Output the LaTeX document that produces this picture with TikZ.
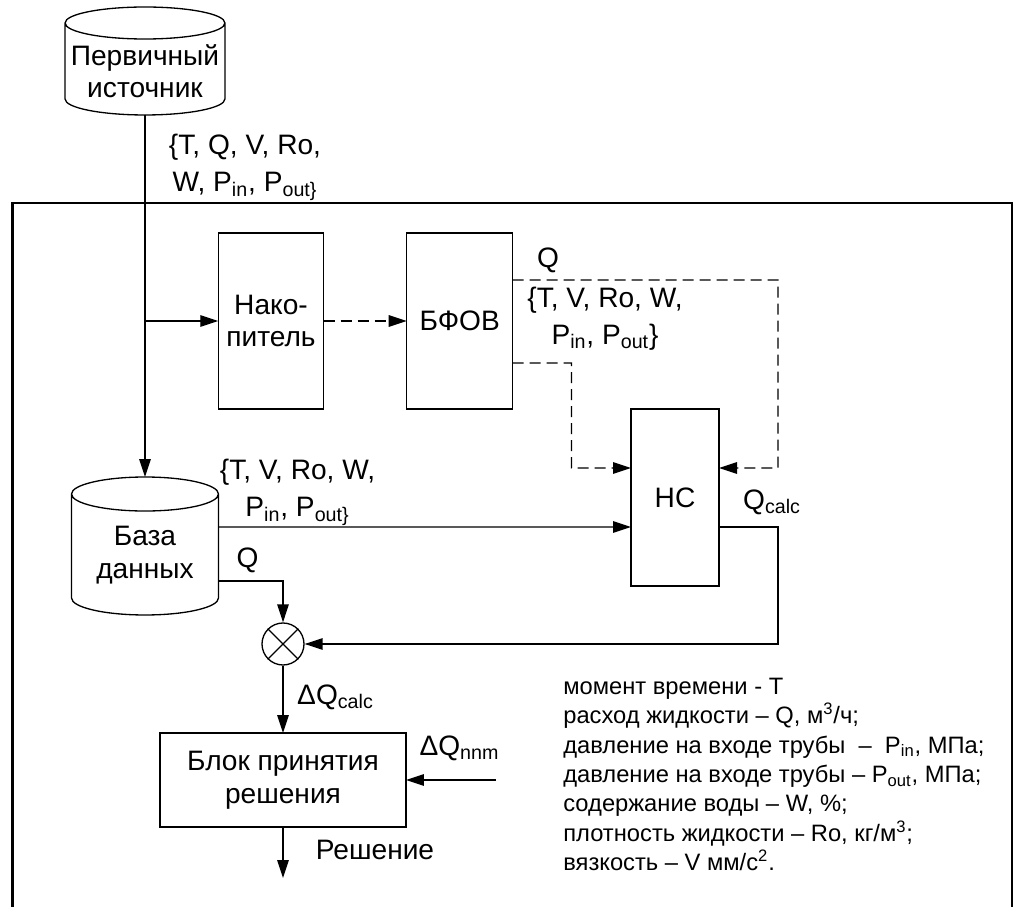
\documentclass[tikz,border=0pt]{standalone}
\usepackage{fontspec}
\setmainfont{Liberation Sans}
\usetikzlibrary{arrows.meta, positioning, calc}

\begin{document}
\begin{tikzpicture}[
            x=0.02cm, y=0.02cm,
            font=\fontsize{16}{18.5}\selectfont,
            block/.style={draw=black, line width=0.75pt, align=center, inner sep=0pt, outer sep=0pt},
            cyl/.style={inner sep=0pt, outer sep=0pt},
            lbl/.style={align=center, inner sep=0pt, font=\fontsize{16}{21}\selectfont},
            legendtext/.style={align=left, inner sep=0pt, font=\fontsize{13.5}{16.7}\selectfont},
            link/.style={line width=0.75pt},
            arrow/.style={-{Triangle[length=0.36cm, width=0.23cm]}, line width=0.75pt},
            dasharrow/.style={arrow, dash pattern=on 0.22cm off 0.12cm},
            outerframe/.style={line width=1.3pt}
        ]
            \useasboundingbox (0,0) rectangle (1013,906);

            % outer frame
            \draw[outerframe] (12.5,-10) -- (12.5,703) -- (1012.5,703) -- (1012.5,-10);

            % cylinders
            \node[cyl, minimum width=3.2cm, minimum height=2.16cm] (src) at (145,845) {};
            \node[align=center] (srctxt) at (145,835) {Первичный\\источник};
            \draw[link] ([yshift=-0.32cm]src.north west) -- ([yshift=0.32cm]src.south west)
                arc[start angle=180, end angle=360, x radius=1.6cm, y radius=0.32cm]
                -- ([yshift=-0.32cm]src.north east)
                arc[start angle=0, end angle=360, x radius=1.6cm, y radius=0.32cm];

            \node[cyl, minimum width=2.94cm, minimum height=2.76cm] (db) at (145,360) {};
            \node[align=center] (dbtxt) at (145,351) {База\\данных};
            \draw[link] ([yshift=-0.34cm]db.north west) -- ([yshift=0.34cm]db.south west)
                arc[start angle=180, end angle=360, x radius=1.47cm, y radius=0.34cm]
                -- ([yshift=-0.34cm]db.north east)
                arc[start angle=0, end angle=360, x radius=1.47cm, y radius=0.34cm];

            % blocks
            \node[block, minimum width=2.11cm, minimum height=3.52cm] (acc) at (271,585) {Нако-\\питель};
            \node[block, minimum width=2.12cm, minimum height=3.52cm, right=1.66cm of acc] (bfov) {БФОВ};
            \node[block, minimum width=1.76cm, minimum height=3.54cm] (nc) at (675,408.5) {НС};
            \node[circle, draw, line width=0.75pt, minimum size=0.84cm, inner sep=0pt] (mul) at (283,262) {};
            \draw[link] (mul.north west) -- (mul.south east) (mul.north east) -- (mul.south west);
            \node[block, minimum width=4.92cm, minimum height=1.88cm] (blk) at (283,126) {Блок принятия\\решения};

            \coordinate (qin) at (496,126);
            \coordinate (out) at (283,28);

            % labels
            \node[lbl] (srcdata) at (245,738.5) {\{T, Q, V, Ro,\\W, P\textsubscript{in}, P\textsubscript{out\}}};
            \node[lbl] (qbfov) at (548,646) {Q};
            \node[lbl] (bfovdata) at (605,587.5) {\{T, V, Ro, W,\\P\textsubscript{in}, P\textsubscript{out}\}};
            \node[lbl] (qcalc) at (772,404) {Q\textsubscript{calc}};
            \node[lbl] (dbdata) at (297.5,413.5) {\{T, V, Ro, W,\\P\textsubscript{in}, P\textsubscript{out\}}};
            \node[lbl] (qdb) at (247.5,346) {Q};
            \node[lbl] (dqcalc) at (335.5,209) {ΔQ\textsubscript{calc}};
            \node[lbl] (dqnnm) at (459.5,158) {ΔQ\textsubscript{nnm}};
            \node[lbl] (decision) at (375,56) {Решение};

            \node[legendtext, anchor=west] (legend) at (563,131.5) {момент времени - T\\
                расход жидкости – Q, м\textsuperscript{3}/ч;\\
                давление на входе трубы\ \ –\ \ P\textsubscript{in}, МПа;\\
                давление на входе трубы – P\textsubscript{out}, МПа;\\
                содержание воды – W, \%;\\
                плотность жидкости – Ro, кг/м\textsuperscript{3};\\
                вязкость – V мм/с\textsuperscript{2}.};

            % connectors
            \draw[arrow] (src.south) -- (db.north);
            \draw[arrow] (src.south |- acc.west) -- (acc.west);
            \draw[dasharrow] (acc) -- (bfov);
            \draw[dasharrow] ([yshift=0.82cm]bfov.east) -| (778,438) -- ([yshift=0.59cm]nc.east);
            \draw[dasharrow] ([yshift=-0.84cm]bfov.east) -| (571.5,438) -- ([yshift=0.59cm]nc.west);
            \draw[arrow] ([yshift=0.38cm]db.east) -- ([yshift=-0.59cm]nc.west);
            \draw[arrow] ([yshift=-0.59cm]nc.east) -| (778,262) -- (mul.east);
            \draw[arrow] ([yshift=-0.7cm]db.east) -| (mul.north);
            \draw[arrow] (mul.south) -- (blk.north);
            \draw[arrow] (qin) -- (blk.east);
            \draw[arrow] (blk.south) -- (out);
        \end{tikzpicture}
\end{document}
